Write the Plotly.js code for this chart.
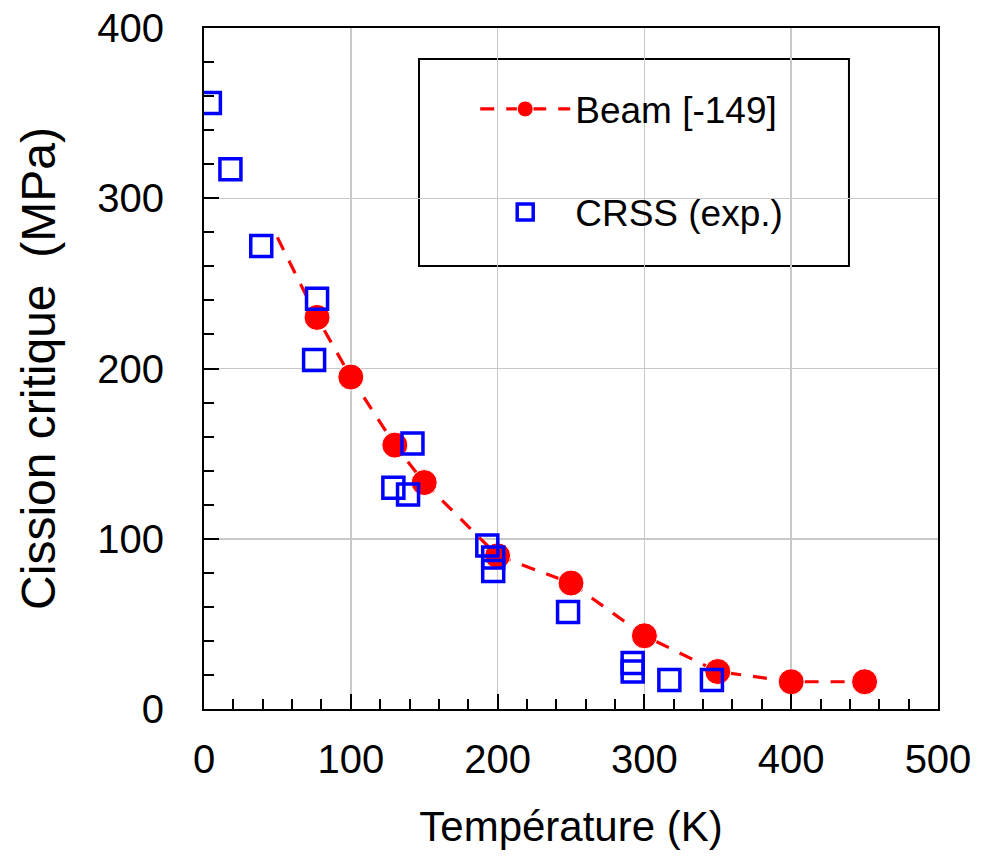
<!DOCTYPE html>
<html>
<head>
<meta charset="utf-8">
<script src="https://cdn.plot.ly/plotly-3.0.1.min.js"></script>
<style>html,body{margin:0;padding:0;background:#fff;}#chart{width:981px;height:858px;}</style>
</head>
<body>
<div id="chart"></div>
<script>
// Beam [-149] simulation (first point = start of the dashed curve, no marker)
const beamT = [50, 77, 100, 130, 150, 200, 250, 300, 350, 400, 450];
const beamV = [277, 230, 195, 155, 133, 90, 74, 43, 22, 16, 16];
// CRSS experimental
const crssT = [4, 18, 39, 77, 75, 142, 129, 139, 193, 197, 197, 248, 292, 292, 317, 346];
const crssV = [356, 317, 272, 241, 205, 156, 130, 126, 96, 89, 81, 57, 27, 22, 17, 17];
const xTicks = [0, 100, 200, 300, 400, 500];
const yTicks = [0, 100, 200, 300, 400];
const beamName = 'Beam [-149]';
const crssName = 'CRSS (exp.)';
const xTitle = 'Température (K)';
const yTitle = 'Cission critique\u00a0\u00a0(MPa)';

const FONT = 'Arial, "Liberation Sans", Helvetica, sans-serif';

const traces = [
  {
    x: beamT, y: beamV, name: beamName, type: 'scatter', mode: 'lines+markers',
    legendgroup: 'a',
    line: {color: '#ff0000', width: 3.2, dash: '14px,12px'},
    marker: {color: '#ff0000', symbol: 'circle', opacity: 1,
             size: beamT.map((t, i) => i === 0 ? 0 : 26)}
  },
  {
    x: crssT, y: crssV, name: crssName, type: 'scatter', mode: 'markers',
    legendgroup: 'b',
    marker: {color: '#0000ff', symbol: 'square-open', size: 21, opacity: 1,
             line: {color: '#0000ff', width: 3.5}}
  }
];

const axisCommon = {
  showline: true, linecolor: '#000', linewidth: 2, mirror: true,
  showgrid: true, gridcolor: '#c8c8c8', gridwidth: 1.5,
  zeroline: false,
  ticks: 'inside', ticklen: 15, tickwidth: 2, tickcolor: '#000',
  tickfont: {family: FONT, size: 40, color: '#000'},
  minor: {dtick: 20, ticks: 'inside', ticklen: 10, tickwidth: 2, tickcolor: '#000', showgrid: false}
};

const layout = {
  width: 981, height: 858,
  margin: {l: 204, r: 43, t: 28, b: 149},
  paper_bgcolor: '#fff', plot_bgcolor: '#fff',
  font: {family: FONT, color: '#000'},
  xaxis: Object.assign({}, axisCommon, {
    range: [0, 500], tickvals: xTicks, ticktext: xTicks.map(String),
    ticklabelstandoff: 14,
    title: {text: xTitle, font: {family: FONT, size: 42, color: '#000'}, standoff: 32}
  }),
  yaxis: Object.assign({}, axisCommon, {
    range: [0, 400], tickvals: yTicks, ticktext: yTicks.map(String),
    ticklabelstandoff: 30,
    title: {text: yTitle, font: {family: FONT, size: 48, color: '#000'}, standoff: 26}
  }),
  showlegend: true,
  legend: {
    x: 0.3695, y: 0.926, xanchor: 'left', yanchor: 'top',
    bgcolor: 'rgba(0,0,0,0)', borderwidth: 0,
    font: {family: FONT, size: 37, color: '#000'},
    tracegroupgap: 52, itemwidth: 90
  },
  shapes: [
    {type: 'rect', xref: 'paper', yref: 'paper', x0: 0.2929, x1: 0.8787, y0: 0.6505, y1: 0.9545,
     line: {color: '#000', width: 2}, fillcolor: '#fff', layer: 'below'}
  ]
};

Plotly.newPlot('chart', traces, layout, {displayModeBar: false, staticPlot: true});
</script>
</body>
</html>
